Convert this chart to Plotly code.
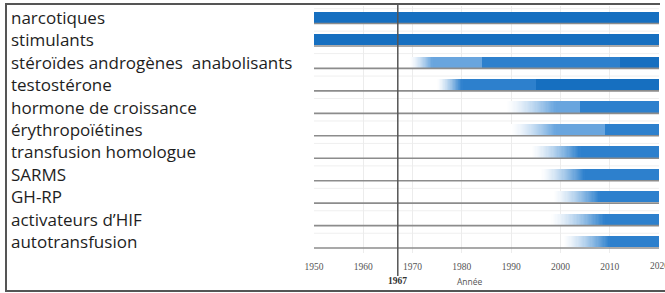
import plotly.graph_objects as go

# ---------------- data ----------------
categories = [
    "narcotiques",
    "stimulants",
    "stéroïdes androgènes\u00a0\u00a0anabolisants",
    "testostérone",
    "hormone de croissance",
    "érythropoïétines",
    "transfusion homologue",
    "SARMS",
    "GH-RP",
    "activateurs d’HIF",
    "autotransfusion",
]
fade_start = [None, None, 1969.5, 1975, 1989, 1990, 1994, 1996, 1998.5, 1998, 2000.5]
light_start = [None, None, 1974, None, 1999, 1999, None, None, None, None, None]
mid_start = [None, None, 1984, 1980, 2004, 2009, 2004, 2005, 2008, 2009, 2010]
dark_start = [1950, 1950, 2012, 1995, None, None, None, None, None, None, None]
end_year = 2020
year_ticks = [1950, 1960, 1970, 1980, 1990, 2000, 2010, 2020]
tick_labels = ["1950", "1960", "1970", "1980", "1990", "2000", "2010", "2020"]
marked_year = 1967
axis_title = "Année"

# ---------------- style ----------------
W, H = 665, 293
ML, MR, MT, MB = 314, 6, 6, 40
PW, PH = W - ML - MR, H - MT - MB
LIGHT = (105, 165, 222)
MID = (45, 128, 205)
DARK = (22, 111, 192)
BAR_W = 0.5
N_STEPS = 40
TICK_FONT = dict(family="Liberation Serif", size=9.5, color="#555555")


def px_x(p):
    return (p - ML) / PW


def px_y(p):
    return (H - MB - p) / PH


def rgb(c):
    return "rgb(%d,%d,%d)" % c


n = len(categories)
rows = list(range(n))
fig = go.Figure()

# solid segments
segments = [(light_start, LIGHT), (mid_start, MID), (dark_start, DARK)]
for si, (starts, col) in enumerate(segments):
    ys, bases, lens = [], [], []
    for i in rows:
        s = starts[i]
        if s is None:
            continue
        e = end_year
        for later, _ in segments[si + 1:]:
            if later[i] is not None:
                e = later[i]
                break
        ys.append(i)
        bases.append(s)
        lens.append(e - s)
    fig.add_trace(go.Bar(orientation="h", y=ys, base=bases, x=lens, width=BAR_W,
                         marker=dict(color=rgb(col), line=dict(width=0)),
                         hoverinfo="skip", showlegend=False))

# gradient fades (white -> first solid colour)
for k in range(N_STEPS):
    ys, bases, lens, cols = [], [], [], []
    for i in rows:
        f = fade_start[i]
        if f is None:
            continue
        target, gend = None, None
        for starts, col in segments:
            if starts[i] is not None:
                target, gend = col, starts[i]
                break
        step = (gend - f) / N_STEPS
        t = ((k + 0.5) / N_STEPS) ** 1.4
        c = tuple(int(round(255 + (target[j] - 255) * t)) for j in range(3))
        ys.append(i)
        bases.append(f + k * step)
        lens.append(step * 1.3)
        cols.append(rgb(c))
    fig.add_trace(go.Bar(orientation="h", y=ys, base=bases, x=lens, width=BAR_W,
                         marker=dict(color=cols, line=dict(width=0)),
                         hoverinfo="skip", showlegend=False))

shapes = []
# grey baseline under each row
for i in rows:
    shapes.append(dict(type="line", xref="x", yref="y", x0=year_ticks[0], x1=end_year,
                       y0=i + 0.28, y1=i + 0.28,
                       line=dict(color="#8c8c8c", width=1.6), layer="above"))
# faint row separators
for i in rows:
    shapes.append(dict(type="line", xref="x", yref="y", x0=year_ticks[0], x1=end_year,
                       y0=i - 0.38, y1=i - 0.38,
                       line=dict(color="#efefef", width=1), layer="below"))
# 1967 marker line
shapes.append(dict(type="line", xref="x", yref="paper", x0=marked_year, x1=marked_year,
                   y0=px_y(276), y1=px_y(4), line=dict(color="#555555", width=1.5),
                   layer="above"))
# outer frame (left, top, bottom)
frame = dict(color="#555555", width=2)
shapes.append(dict(type="line", xref="paper", yref="paper", x0=px_x(6), x1=px_x(6),
                   y0=px_y(292), y1=px_y(4), line=frame))
shapes.append(dict(type="line", xref="paper", yref="paper", x0=px_x(5), x1=px_x(660),
                   y0=px_y(4), y1=px_y(4), line=frame))
shapes.append(dict(type="line", xref="paper", yref="paper", x0=px_x(5), x1=px_x(670),
                   y0=px_y(291), y1=px_y(291), line=frame))

annotations = []
for i, name in enumerate(categories):
    annotations.append(dict(text=name, xref="paper", yref="y", x=px_x(9), y=i,
                            xanchor="left", yanchor="middle", showarrow=False,
                            font=dict(family="Open Sans", size=17, color="#1e1e1e")))
# last tick label (hidden by the axis because it overflows the page edge)
annotations.append(dict(text=tick_labels[-1], xref="x", yref="paper", x=year_ticks[-1],
                        y=px_y(266), xanchor="center", yanchor="middle", showarrow=False,
                        font=TICK_FONT))
annotations.append(dict(text="<b>%d</b>" % marked_year, xref="x", yref="paper",
                        x=marked_year, y=px_y(281), xanchor="center", yanchor="middle",
                        showarrow=False,
                        font=dict(family="Liberation Serif", size=9.5, color="#333333")))
annotations.append(dict(text=axis_title, xref="x", yref="paper", x=1981.6, y=px_y(281),
                        xanchor="center", yanchor="middle", showarrow=False,
                        font=dict(family="Open Sans", size=8.5, color="#555555")))

fig.update_layout(
    width=W, height=H,
    margin=dict(l=ML, r=MR, t=MT, b=MB, pad=0),
    paper_bgcolor="white", plot_bgcolor="white",
    barmode="overlay", bargap=0, showlegend=False, hovermode=False,
    shapes=shapes, annotations=annotations,
    xaxis=dict(range=[year_ticks[0], end_year], tickvals=year_ticks[:-1],
               ticktext=tick_labels[:-1],
               showgrid=True, gridcolor="#ececec", gridwidth=1, zeroline=False,
               showline=False, ticks="", ticklabelstandoff=6, tickfont=TICK_FONT),
    yaxis=dict(range=[n - 0.5, -0.5], showticklabels=False, showgrid=False,
               zeroline=False, showline=False, ticks=""),
)

fig.write_html("out.html", config={"displayModeBar": False},
               post_script="document.body.style.margin='0';")
